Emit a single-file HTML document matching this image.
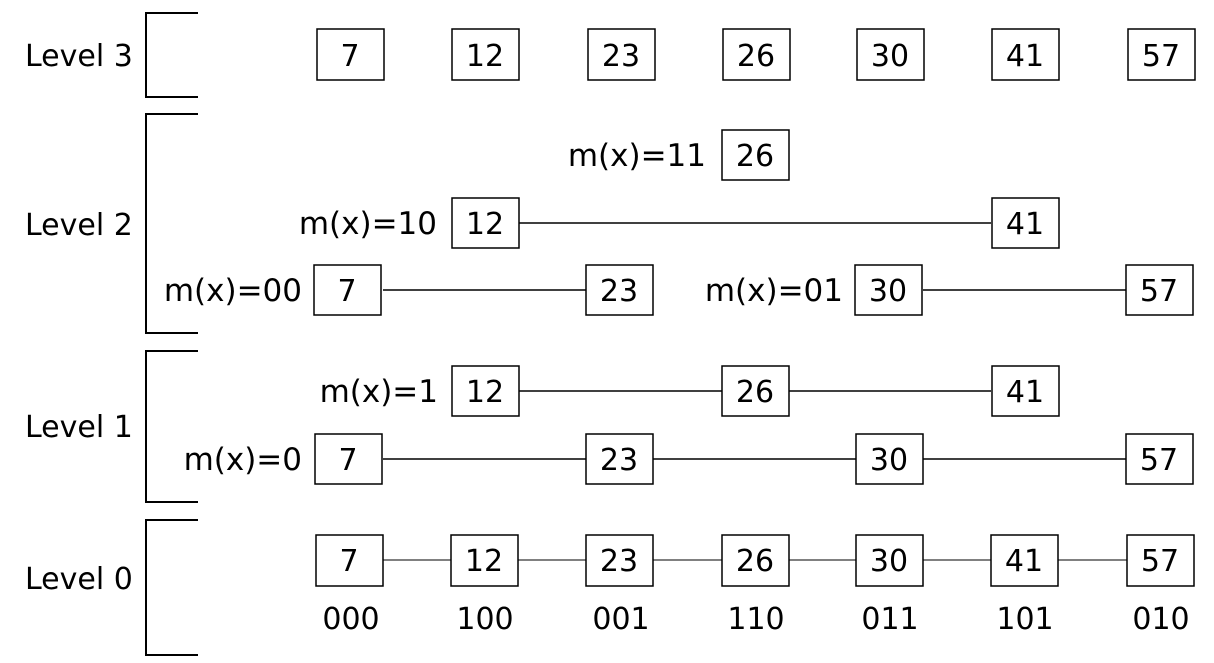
<!DOCTYPE html>
<html><head><meta charset="utf-8"><style>
html,body{margin:0;padding:0;background:#fff;}
svg{display:block;}
</style></head><body>
<svg width="1214" height="663" viewBox="0 0 1214 663" xmlns="http://www.w3.org/2000/svg" font-family="DejaVu Sans, Liberation Sans, sans-serif" font-size="31">
<g stroke="#000" stroke-width="2" fill="none">
<polyline points="198,13 146,13 146,97 198,97"/>
<polyline points="198,114 146,114 146,333 198,333"/>
<polyline points="198,351 146,351 146,502 198,502"/>
<polyline points="198,520 146,520 146,655 198,655"/>
</g>
<g style="font-size:30px">
<text x="25" y="66">Level 3</text>
<text x="25" y="235">Level 2</text>
<text x="25" y="437">Level 1</text>
<text x="25" y="589">Level 0</text>
</g>
<g stroke="#000" stroke-width="1.5">
<line x1="518" y1="223" x2="991" y2="223"/>
<line x1="383" y1="290" x2="587" y2="290"/>
<line x1="923" y1="290" x2="1127" y2="290"/>
<line x1="518" y1="391" x2="991" y2="391"/>
<line x1="383" y1="459" x2="1127" y2="459"/>
<line x1="383" y1="560" x2="1127" y2="560" stroke-width="1"/>
</g>
<g stroke="#000" stroke-width="1.5" fill="#fff">
<rect x="317" y="29" width="67" height="51"/><rect x="452" y="29" width="67" height="51"/>
<rect x="588" y="29" width="67" height="51"/><rect x="723" y="29" width="67" height="51"/>
<rect x="857" y="29" width="67" height="51"/><rect x="992" y="29" width="67" height="51"/>
<rect x="1128" y="29" width="67" height="51"/>
<rect x="722" y="130" width="67" height="50"/>
<rect x="452" y="198" width="67" height="50"/><rect x="992" y="198" width="67" height="50"/>
<rect x="314" y="265" width="67" height="50"/><rect x="586" y="265" width="67" height="50"/>
<rect x="855" y="265" width="67" height="50"/><rect x="1126" y="265" width="67" height="50"/>
<rect x="452" y="366" width="67" height="50"/><rect x="722" y="366" width="67" height="50"/>
<rect x="992" y="366" width="67" height="50"/>
<rect x="315" y="434" width="67" height="50"/><rect x="586" y="434" width="67" height="50"/>
<rect x="856" y="434" width="67" height="50"/><rect x="1126" y="434" width="67" height="50"/>
<rect x="316" y="535" width="67" height="51"/><rect x="451" y="535" width="67" height="51"/>
<rect x="586" y="535" width="67" height="51"/><rect x="722" y="535" width="67" height="51"/>
<rect x="856" y="535" width="67" height="51"/><rect x="991" y="535" width="67" height="51"/>
<rect x="1127" y="535" width="67" height="51"/>
</g>
<g text-anchor="middle" style="font-size:30px">
<text x="350" y="66">7</text><text x="485" y="66">12</text><text x="621" y="66">23</text>
<text x="756" y="66">26</text><text x="890" y="66">30</text><text x="1025" y="66">41</text><text x="1161" y="66">57</text>
<text x="755" y="166">26</text>
<text x="485" y="234">12</text><text x="1025" y="234">41</text>
<text x="347" y="301">7</text><text x="619" y="301">23</text><text x="888" y="301">30</text><text x="1159" y="301">57</text>
<text x="485" y="402">12</text><text x="755" y="402">26</text><text x="1025" y="402">41</text>
<text x="348" y="470">7</text><text x="619" y="470">23</text><text x="889" y="470">30</text><text x="1159" y="470">57</text>
<text x="349" y="571">7</text><text x="484" y="571">12</text><text x="619" y="571">23</text>
<text x="755" y="571">26</text><text x="889" y="571">30</text><text x="1024" y="571">41</text><text x="1160" y="571">57</text>
<text x="351" y="629">000</text><text x="485" y="629">100</text><text x="621" y="629">001</text>
<text x="756" y="629">110</text><text x="890" y="629">011</text><text x="1025" y="629">101</text><text x="1161" y="629">010</text>
</g>
<g text-anchor="end" style="font-size:31px">
<text x="706" y="166">m(x)=11</text>
<text x="437" y="234">m(x)=10</text>
<text x="302" y="301">m(x)=00</text>
<text x="843" y="301">m(x)=01</text>
<text x="438" y="402">m(x)=1</text>
<text x="302" y="470">m(x)=0</text>
</g>
</svg>
</body></html>
